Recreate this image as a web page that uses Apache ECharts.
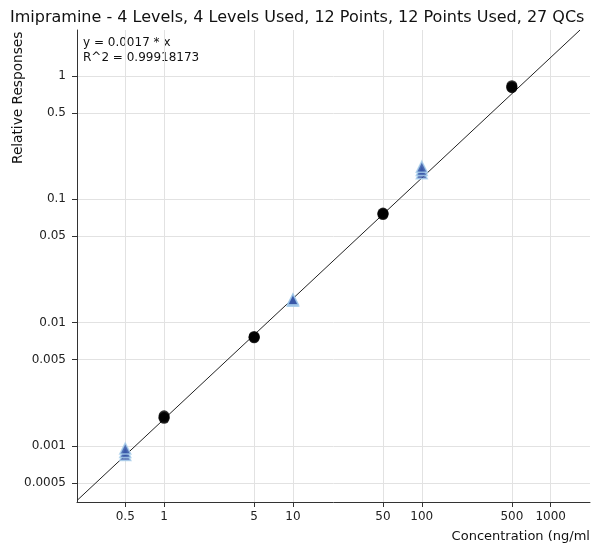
<!DOCTYPE html>
<html>
<head>
<meta charset="utf-8">
<script src="https://cdn.jsdelivr.net/npm/echarts@6/dist/echarts.min.js"></script>
<style>html,body{margin:0;padding:0;background:#fff}#c{width:591px;height:546px}</style>
</head>
<body>
<div id="c"></div>
<script>
const titleText = 'Imipramine - 4 Levels, 4 Levels Used, 12 Points, 12 Points Used, 27 QCs';
const equationLines = ['y = 0.0017 * x', 'R^2 = 0.99918173'];
const xAxisName = 'Concentration (ng/ml)';
const yAxisName = 'Relative Responses';

const xTicks = [0.5, 1, 5, 10, 50, 100, 500, 1000];
const yTicks = [0.0005, 0.001, 0.005, 0.01, 0.05, 0.1, 0.5, 1];
const xRange = [0.211, 2020];
const yRange = [0.00035, 2.35];

// calibration standards (3 replicates per level)
const stdX = [1, 1, 1, 5, 5, 5, 50, 50, 50, 500, 500, 500];
const stdY = [0.00167, 0.0017, 0.00175, 0.0075, 0.0076, 0.0077, 0.075, 0.076, 0.077, 0.80, 0.81, 0.83];

// QCs
const qcX = [0.5, 0.5, 0.5, 10, 10, 10, 100, 100, 100];
const qcY = [0.00084, 0.00089, 0.00095, 0.0150, 0.0152, 0.0154, 0.162, 0.172, 0.183];

// regression line endpoints
const fitX = [0.211, 1690];
const fitY = [0.00036, 2.35];

const chart = echarts.init(document.getElementById('c'));
const fmt = v => String(+Number(v).toPrecision(6));
const font = 'DejaVu Sans';
chart.setOption({
  animation: false,
  title: {
    text: titleText, left: 5, top: 5,
    textStyle: { fontFamily: font, fontSize: 16, fontWeight: 'normal', color: '#111' }
  },
  grid: { left: 77, right: 1, top: 30, bottom: 44, containLabel: false },
  xAxis: {
    type: 'log', logBase: 10, min: xRange[0], max: xRange[1],
    axisLine: { onZero: false, lineStyle: { color: '#333', width: 1 } },
    axisTick: { show: true, length: 5, lineStyle: { color: '#333' }, customValues: xTicks },
    axisLabel: { customValues: xTicks, formatter: fmt, margin: 9, fontFamily: font, fontSize: 12, color: '#222' },
    splitLine: { show: true, lineStyle: { color: '#e2e2e2', width: 1 } },
    minorTick: { show: false }
  },
  yAxis: {
    type: 'log', logBase: 10, min: yRange[0], max: yRange[1],
    axisLine: { show: true, onZero: false, lineStyle: { color: '#333', width: 1 } },
    axisTick: { show: true, length: 5, lineStyle: { color: '#333' }, customValues: yTicks },
    axisLabel: { customValues: yTicks, formatter: fmt, margin: 11, fontFamily: font, fontSize: 12, color: '#222' },
    splitLine: { show: true, lineStyle: { color: '#e2e2e2', width: 1 } }
  },
  graphic: [
    { type: 'text', left: 83, top: 35, style: { text: equationLines.join('\n'), font: '12px ' + font, fill: '#111', lineHeight: 15 } },
    { type: 'text', right: -4, top: 530, style: { text: xAxisName, font: '13px ' + font, fill: '#111' } },
    { type: 'text', x: 11, y: 164, rotation: Math.PI / 2, style: { text: yAxisName, font: '13.7px ' + font, fill: '#111', textAlign: 'left', textVerticalAlign: 'top' } }
  ],
  series: [
    {
      type: 'line', data: fitX.map((x, i) => [x, fitY[i]]), symbol: 'none',
      lineStyle: { color: '#222', width: 1 }, z: 2
    },
    {
      type: 'scatter', data: stdX.map((x, i) => [x, stdY[i]]), symbol: 'circle', symbolSize: 11,
      itemStyle: { color: '#000' }, z: 3
    },
    {
      type: 'scatter', data: qcX.map((x, i) => [x, qcY[i]]), symbol: 'triangle', symbolSize: 11,
      itemStyle: { color: '#3756a8', borderColor: '#a9d0ec', borderWidth: 1.5 }, z: 4
    }
  ]
});
</script>
</body>
</html>
